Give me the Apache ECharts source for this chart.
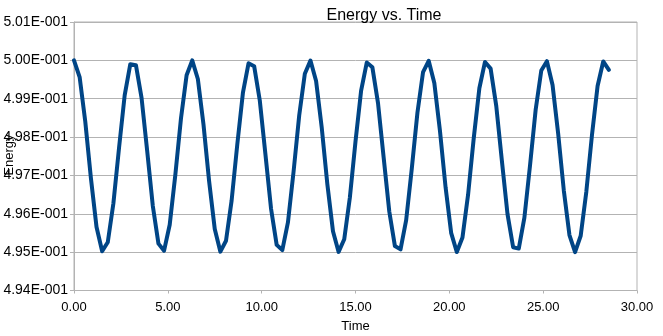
<!DOCTYPE html>
<html>
<head>
<meta charset="utf-8">
<script src="https://cdn.jsdelivr.net/npm/echarts@6/dist/echarts.min.js"></script>
<style>
html,body{margin:0;padding:0;background:#fff;}
#c{width:663px;height:336px;}
</style>
</head>
<body>
<div id="c"></div>
<script>
var titleText = "Energy vs. Time";
var xName = "Time";
var yName = "Energy";
var xTicks = [0, 5, 10, 15, 20, 25, 30];
var yTicks = [0.494, 0.495, 0.496, 0.497, 0.498, 0.499, 0.500, 0.501];
var time = [
 0.0,0.3,0.6,0.9,1.2,1.5,1.8,2.1,2.4,2.7,3.0,3.3,3.6,3.9,4.2,4.5,4.8,5.1,5.4,5.7,
 6.0,6.3,6.6,6.9,7.2,7.5,7.8,8.1,8.4,8.7,9.0,9.3,9.6,9.9,10.2,10.5,10.8,11.1,11.4,11.7,
 12.0,12.3,12.6,12.9,13.2,13.5,13.8,14.1,14.4,14.7,15.0,15.3,15.6,15.9,16.2,16.5,16.8,17.1,17.4,17.7,
 18.0,18.3,18.6,18.9,19.2,19.5,19.8,20.1,20.4,20.7,21.0,21.3,21.6,21.9,22.2,22.5,22.8,23.1,23.4,23.7,
 24.0,24.3,24.6,24.9,25.2,25.5,25.8,26.1,26.4,26.7,27.0,27.3,27.6,27.9,28.2,28.5
];
var energy = [
 0.500000,0.499563,0.498406,0.496932,0.495656,0.495025,0.495258,0.496274,0.497719,0.499087,
 0.499901,0.499876,0.499021,0.497635,0.496202,0.495222,0.495038,0.495714,0.497016,0.498484,
 0.499610,0.499999,0.499515,0.498328,0.496850,0.495601,0.495013,0.495296,0.496349,0.497802,
 0.499151,0.499923,0.499848,0.498954,0.497551,0.496131,0.495189,0.495054,0.495774,0.497099,
 0.498561,0.499653,0.499994,0.499464,0.498247,0.496770,0.495546,0.495006,0.495337,0.496424,
 0.497886,0.499213,0.499942,0.499818,0.498884,0.497467,0.496060,0.495158,0.495072,0.495834,
 0.497180,0.498636,0.499695,0.499987,0.499411,0.498167,0.496689,0.495494,0.495002,0.495380,
 0.496500,0.497969,0.499272,0.499959,0.499785,0.498813,0.497383,0.495992,0.495127,0.495093,
 0.495900,0.497263,0.498712,0.499734,0.499978,0.499356,0.498085,0.496610,0.495444,0.495000,
 0.495427,0.496577,0.498051,0.499331,0.499972,0.499750
];

function sci(v){
  if (v === 0) return "0.00E+000";
  var e = Math.floor(Math.log10(Math.abs(v)) + 1e-9);
  var m = v / Math.pow(10, e);
  var s = m.toFixed(2);
  if (s === "10.00") { e += 1; s = (v / Math.pow(10, e)).toFixed(2); }
  var es = String(Math.abs(e));
  while (es.length < 3) es = "0" + es;
  return s + "E" + (e < 0 ? "-" : "+") + es;
}

var data = time.map(function(t, i){ return [t, energy[i]]; });
var chart = echarts.init(document.getElementById('c'), null, {renderer:'canvas'});
var FONT = "Liberation Sans";
chart.setOption({
  animation: false,
  backgroundColor: '#ffffff',
  title: {
    text: titleText,
    left: 379, top: 3,
    textAlign: 'center',
    textStyle: {fontFamily: FONT, fontSize: 16, fontWeight: 'normal', color: '#000'}
  },
  graphic: [{
    type: 'text',
    x: 9, y: 155,
    rotation: Math.PI / 2,
    style: {text: yName, fontFamily: FONT, fontSize: 13, fill: '#000', align: 'center', verticalAlign: 'middle'},
    z: 100
  }],
  grid: {left: 74, right: 26, top: 22, bottom: 45.5, containLabel: false, outerBoundsMode: 'none',
         show: true, borderColor: '#b3b3b3', borderWidth: 1, backgroundColor: 'transparent'},
  xAxis: {
    type: 'value',
    min: xTicks[0], max: xTicks[xTicks.length-1], interval: xTicks[1]-xTicks[0],
    name: xName, nameLocation: 'middle', nameGap: 29,
    nameTextStyle: {fontFamily: FONT, fontSize: 13, color: '#000'},
    axisLine: {show: true, lineStyle: {color: '#b3b3b3', width: 1}},
    axisTick: {show: true, length: 3, lineStyle: {color: '#b3b3b3'}},
    axisLabel: {fontFamily: FONT, fontSize: 13, color: '#000', margin: 10, formatter: function(v){ return v.toFixed(2); }},
    splitLine: {show: false}
  },
  yAxis: {
    type: 'value',
    min: yTicks[0], max: yTicks[yTicks.length-1], interval: 0.001,
    axisLine: {show: true, lineStyle: {color: '#b3b3b3', width: 1}},
    axisTick: {show: true, length: 4, lineStyle: {color: '#b3b3b3'}},
    axisLabel: {fontFamily: FONT, fontSize: 14, color: '#000', margin: 6, formatter: function(v){ return sci(v); }},
    splitLine: {show: true, lineStyle: {color: '#b3b3b3', width: 1}}
  },
  series: [{
    type: 'line',
    data: data,
    showSymbol: false,
    symbol: 'none',
    lineStyle: {color: '#004586', width: 4, join: 'round', cap: 'round'},
    itemStyle: {color: '#004586'}
  }]
});
</script>
</body>
</html>
